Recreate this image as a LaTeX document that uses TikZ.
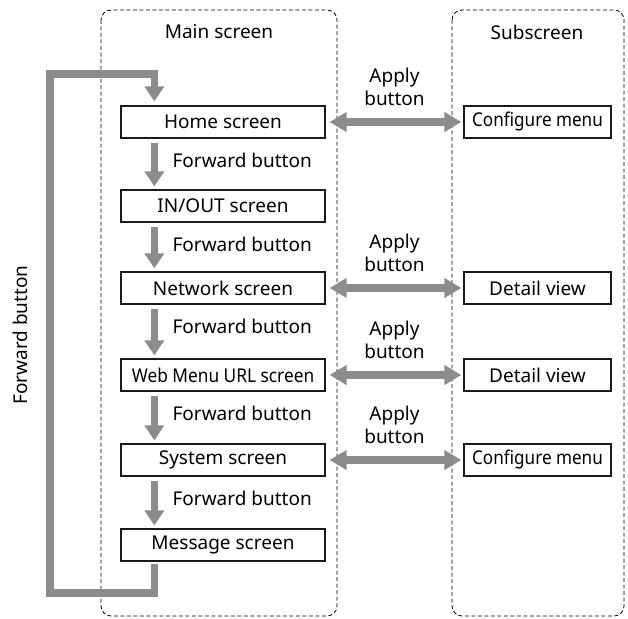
\documentclass[tikz,border=0pt]{standalone}
\usepackage{fontspec}
\setmainfont{Noto Sans}
\usetikzlibrary{arrows.meta,calc}
\definecolor{arrowgray}{HTML}{8C8C8C}
\tikzset{
  lane/.style={draw=black, dashed, dash pattern=on 4pt off 2.5pt, line width=0.8pt, rounded corners=10pt},
  screenbox/.style={draw=black!90, line width=1.3pt, minimum height=32pt, inner sep=0pt, font=\fontsize{19}{22}\selectfont},
  mainbox/.style={screenbox, minimum width=204pt},
  subbox/.style={screenbox, minimum width=147pt},
  fwd/.style={draw=arrowgray, line width=7.5pt, -{Triangle[length=15pt,width=19pt]}},
  loop/.style={draw=arrowgray, line width=7.5pt, line join=miter, -{Triangle[length=15pt,width=19pt]}},
  apply/.style={draw=arrowgray, line width=7.5pt, {Triangle[length=17pt,width=19pt]}-{Triangle[length=17pt,width=19pt]}},
  lbl/.style={font=\fontsize{19}{23.5}\selectfont, inner sep=0pt},
}
\begin{document}
\begin{tikzpicture}[x=1pt,y=-1pt]
\useasboundingbox (0,0) rectangle (628,618);
% lanes
\draw[lane] (101,10) rectangle (337,616);
\draw[lane] (452,10) rectangle (624,616);
\node[lbl] (mainlbl) at (219,32) {Main screen};
\node[lbl] (sublbl) at (537,32) {Subscreen};
% main nodes
\node[mainbox] (home)  at (223,122) {Home screen};
\node[mainbox] (inout) at (223,206) {IN/OUT screen};
\node[mainbox] (net)   at (223,288) {Network screen};
\node[mainbox] (web)   at (223,375) {\addfontfeature{FakeStretch=0.91}Web Menu URL screen};
\node[mainbox] (sys)   at (223,460) {System screen};
\node[mainbox] (msg)   at (223,545) {Message screen};
% sub nodes
\node[subbox] (cfgA) at (537.5,122) {\addfontfeature{FakeStretch=0.9}Configure menu};
\node[subbox] (detA) at (537.5,288) {Detail view};
\node[subbox] (detB) at (537.5,375) {Detail view};
\node[subbox] (cfgB) at (537.5,460) {\addfontfeature{FakeStretch=0.9}Configure menu};
% forward arrows
\foreach \a/\b in {home/inout, inout/net, net/web, web/sys, sys/msg}{
  \draw[fwd] ([xshift=34pt,yshift=-4pt]\a.south west) -- ([xshift=34pt,yshift=3pt]\b.north west);
  \node[lbl, anchor=west] at ([xshift=52pt,yshift=-22pt]\a.south west) {Forward button};
}
% apply arrows
\foreach \a/\b in {home/cfgA, net/detA, web/detB, sys/cfgB}{
  \draw[apply] ([xshift=4pt]\a.east) -- ([xshift=-2pt]\b.west);
  \node[lbl, align=center] at ($(\a.east)!0.5!(\b.west)+(0,-35)$) {Apply\\button};
}
% loop back
\coordinate (lb) at (50,593);
\coordinate (lt) at (50,74);
\draw[loop] ([xshift=34pt,yshift=-2pt]msg.south west) |- (lb) -- (lt) -| ([xshift=34pt,yshift=4pt]home.north west);
\node[lbl, rotate=90] (loopl) at (20,335) {Forward button};
\end{tikzpicture}
\end{document}
